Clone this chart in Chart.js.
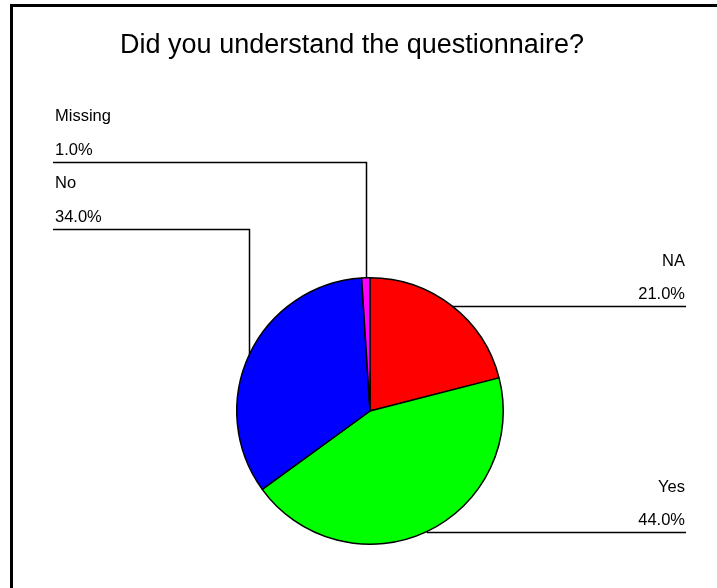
<!DOCTYPE html>
<html>
<head>
<meta charset="utf-8">
<script src="https://cdn.jsdelivr.net/npm/chart.js@4/dist/chart.umd.min.js"></script>
<style>
  html, body { margin: 0; padding: 0; background: #fff; }
  #wrap { width: 717px; height: 588px; }
</style>
</head>
<body>
<div id="wrap"><canvas id="pieChart" width="717" height="588"></canvas></div>
<script>
// data
const categories = ["NA", "Yes", "No", "Missing"];
const percents = [21.0, 44.0, 34.0, 1.0];
const sliceColors = ["#ff0000", "#00ff00", "#0000ff", "#ff00ff"];
const titleText = "Did you understand the questionnaire?";

// where each label sits: right labels hang on the slice's midpoint height,
// left labels sit on a fixed line and drop down to the slice
const labelSide = ["right", "right", "left", "left"];
const leftLineY = { Missing: 162, No: 229 };

const FONT = "'Liberation Sans', Arial, Helvetica, sans-serif";

const calloutPlugin = {
  id: "callouts",
  beforeDraw(chart) {
    const ctx = chart.ctx;
    ctx.save();
    ctx.fillStyle = "#fff";
    ctx.fillRect(0, 0, chart.width, chart.height);
    // frame (left and top edges only)
    ctx.fillStyle = "#000";
    ctx.fillRect(10, 4, 3, chart.height - 4);
    ctx.fillRect(10, 4, chart.width - 10, 3);
    // title
    ctx.font = "27px " + FONT;
    ctx.textAlign = "center";
    ctx.textBaseline = "alphabetic";
    ctx.fillText(titleText, 352, 53);
    ctx.restore();
  },
  afterDraw(chart) {
    const ctx = chart.ctx;
    const arcs = chart.getDatasetMeta(0).data;
    ctx.save();
    ctx.strokeStyle = "#000";
    ctx.lineWidth = 1.5;
    ctx.fillStyle = "#000";
    ctx.font = "16.5px " + FONT;
    ctx.textBaseline = "alphabetic";

    arcs.forEach((arc, i) => {
      const p = arc.getProps(["x", "y", "startAngle", "endAngle", "outerRadius"], true);
      const mid = (p.startAngle + p.endAngle) / 2;
      const mx = p.x + Math.cos(mid) * p.outerRadius;
      const my = p.y + Math.sin(mid) * p.outerRadius;
      const name = categories[i];
      const value = percents[i].toFixed(1) + "%";

      ctx.beginPath();
      if (labelSide[i] === "right") {
        const endX = 686;
        const ly = Math.round(my) + 0.5;
        ctx.moveTo(mx, ly);
        ctx.lineTo(endX, ly);
        ctx.stroke();
        ctx.textAlign = "right";
        ctx.fillText(name, endX - 1, ly - 41);
        ctx.fillText(value, endX - 1, ly - 8);
      } else {
        const startX = 53;
        const ly = leftLineY[name] + 0.5;
        const vx = Math.round(mx) + 0.5;
        ctx.moveTo(startX, ly);
        ctx.lineTo(vx, ly);
        ctx.lineTo(vx, my);
        ctx.stroke();
        ctx.textAlign = "left";
        ctx.fillText(name, startX + 2, ly - 42);
        ctx.fillText(value, startX + 2, ly - 8);
      }
    });
    ctx.restore();
  }
};

new Chart(document.getElementById("pieChart"), {
  type: "pie",
  data: {
    labels: categories,
    datasets: [{
      data: percents,
      backgroundColor: sliceColors,
      borderColor: "#000",
      borderWidth: 1.5,
      hoverOffset: 0,
      offset: 0
    }]
  },
  options: {
    responsive: false,
    animation: false,
    events: [],
    layout: { padding: { left: 236, right: 213, top: 277, bottom: 43 } },
    plugins: {
      legend: { display: false },
      title: { display: false },
      tooltip: { enabled: false }
    }
  },
  plugins: [calloutPlugin]
});
</script>
</body>
</html>
